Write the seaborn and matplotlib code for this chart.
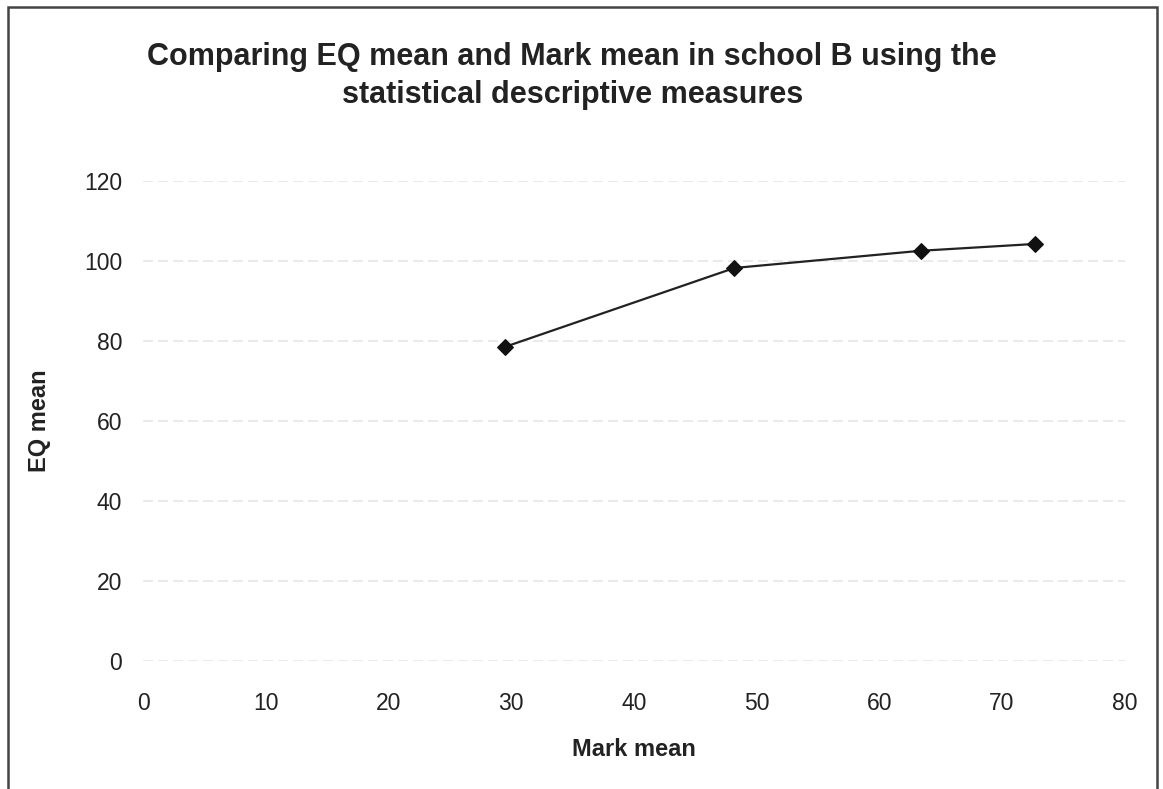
import matplotlib
matplotlib.use("Agg")
import matplotlib.pyplot as plt
import seaborn as sns
import pandas as pd
from matplotlib.patches import Rectangle

# Values
mark_mean = [29.5, 48.2, 63.4, 72.7]
eq_mean = [78.5, 98.2, 102.5, 104.2]
x_ticks = [0, 10, 20, 30, 40, 50, 60, 70, 80]
y_ticks = [0, 20, 40, 60, 80, 100, 120]

df = pd.DataFrame({'Mark mean': mark_mean, 'EQ mean': eq_mean})

sns.set_theme(style="white")
plt.rcParams['font.family'] = ['Liberation Sans', 'DejaVu Sans']

fig = plt.figure(figsize=(11.63, 7.89), dpi=100)
ax = fig.add_axes([0.123, 0.162, 0.844, 0.609])

sns.lineplot(data=df, x='Mark mean', y='EQ mean', ax=ax, color='#222222',
             linewidth=1.6, marker='D', markersize=8, markeredgecolor='#111111',
             markerfacecolor='#111111')

ax.set_xlim(0, 80)
ax.set_ylim(0, 120)
ax.set_xticks(x_ticks)
ax.set_yticks(y_ticks)
ax.tick_params(axis='both', labelsize=16.5, colors='#222222', length=0)
ax.tick_params(axis='x', pad=22)
ax.tick_params(axis='y', pad=15)
ax.yaxis.grid(True, color='#e6e6e6', linewidth=1.2, linestyle=(0, (6, 3)))
ax.xaxis.grid(False)
for s in ax.spines.values():
    s.set_visible(False)

ax.set_xlabel('Mark mean', fontsize=17, fontweight='bold', labelpad=17, color='#222222')
ax.set_ylabel('EQ mean', fontsize=17, fontweight='bold', labelpad=24, color='#222222')

fig.text(0.492, 0.904, 'Comparing EQ mean and Mark mean in school B using the\nstatistical descriptive measures',
         ha='center', va='center', fontsize=22, fontweight='bold', color='#222222',
         linespacing=1.35)

# chart border
fig.patches.append(Rectangle((8 / 1163, -0.05), 1149 / 1163, 1 - 7 / 789 + 0.05,
                             transform=fig.transFigure, fill=False,
                             edgecolor='#444444', linewidth=1.8))

fig.savefig('out.png', dpi=100)
